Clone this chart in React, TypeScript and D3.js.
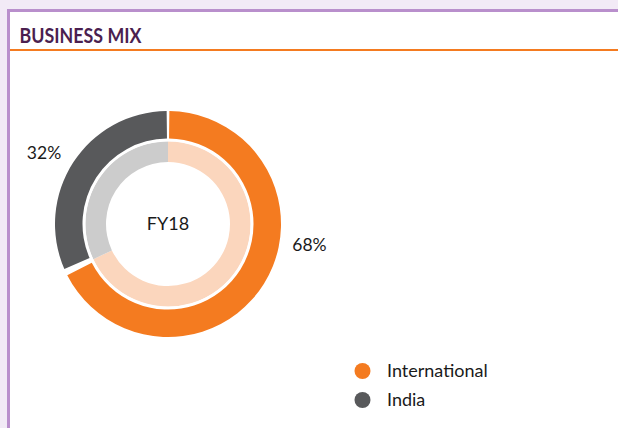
import React from "react";
import * as d3 from "d3";

// chart data
const segments = ["International", "India"];
const shares = [68, 32];
const centerLabel = "FY18";
const title = "BUSINESS MIX";

const W = 618;
const H = 428;
const FONT = "Lato, 'Open Sans', sans-serif";

const outerColors = ["#f47b20", "#58595b"];
const innerColors = ["#fbd6bd", "#cccccc"];

// angular gaps between the outer slices (top joint, bottom joint), radians
const topGap = 0.012;
const midGap = 0.03;
// where along each slice the % label sits (0 = start, 1 = end)
const labelAt = [0.402, 0.478];

export default function App() {
  const cx = 168;
  const cy = 224;

  const pie = d3
    .pie<number>()
    .sort(null)
    .value((d) => d);
  const slices = pie(shares);

  const outerArc = d3.arc<any>().innerRadius(85.5).outerRadius(113);
  const innerArc = d3.arc<any>().innerRadius(62).outerRadius(82.5);

  // trim the outer slices so the joints show a thin white wedge
  const outerSlices = slices.map((s, i) => ({
    ...s,
    startAngle: s.startAngle + (i === 0 ? topGap : midGap),
    endAngle: s.endAngle - (i === 0 ? midGap : topGap),
  }));

  const labelR = 143;
  const labels = slices.map((s, i) => {
    const a = s.startAngle + (s.endAngle - s.startAngle) * labelAt[i];
    return {
      x: labelR * Math.sin(a),
      y: -labelR * Math.cos(a),
      text: `${shares[i]}%`,
    };
  });

  const legendY = d3.scalePoint<string>().domain(segments).range([371, 400]);

  return (
    <svg
      width={W}
      height={H}
      style={{ position: "absolute", left: 0, top: 0, display: "block" }}
    >
      {/* page background and panel */}
      <rect width={W} height={H} fill="#f2eaf6" />
      <rect x={8.5} y={10.5} width={W} height={H} fill="#ffffff" stroke="#b98fcc" strokeWidth={3} />

      <text
        x={19.5}
        y={43.3}
        fill="#4b1f50"
        fontFamily={FONT}
        fontWeight={700}
        fontSize={20.5}
        textLength={122}
        lengthAdjust="spacingAndGlyphs"
      >
        {title}
      </text>
      <line x1={10} x2={W} y1={50} y2={50} stroke="#f47b20" strokeWidth={1.8} />

      <g transform={`translate(${cx},${cy})`}>
        {slices.map((s, i) => (
          <path key={`in-${i}`} d={innerArc(s) as string} fill={innerColors[i]} />
        ))}
        <circle r={84} fill="none" stroke="#ffffff" strokeWidth={2.5} />
        {outerSlices.map((s, i) => (
          <path key={`out-${i}`} d={outerArc(s) as string} fill={outerColors[i]} />
        ))}
        <text
          y={0}
          dy="0.36em"
          textAnchor="middle"
          fontFamily={FONT}
          fontSize={18}
          fill="#1a1a1a"
        >
          {centerLabel}
        </text>
        {labels.map((l, i) => (
          <text
            key={`lab-${i}`}
            x={l.x}
            y={l.y}
            dy="0.36em"
            textAnchor="middle"
            fontFamily={FONT}
            fontSize={17.5}
            fill="#1a1a1a"
          >
            {l.text}
          </text>
        ))}
      </g>

      <g>
        {segments.map((name, i) => (
          <g key={name} transform={`translate(0,${legendY(name)})`}>
            <circle cx={362.5} cy={0} r={8} fill={outerColors[i]} />
            <text x={387} y={0} dy="0.36em" fontFamily={FONT} fontSize={18} fill="#1a1a1a">
              {name}
            </text>
          </g>
        ))}
      </g>
    </svg>
  );
}
